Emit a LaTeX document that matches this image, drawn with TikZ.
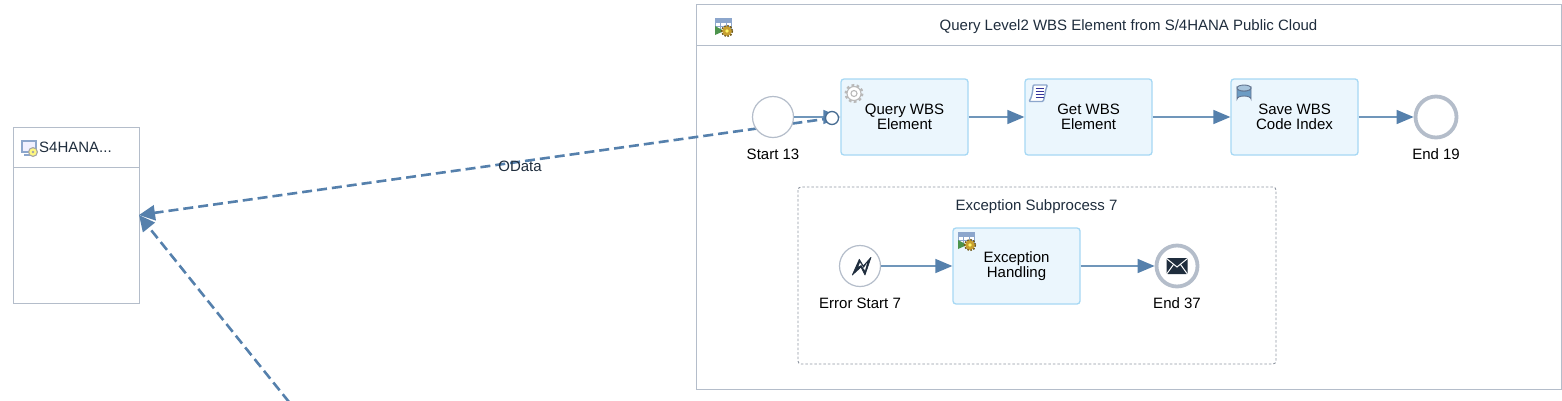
\documentclass[tikz,border=0pt]{standalone}
\usepackage{fontspec}
\setmainfont{Liberation Sans}
\usetikzlibrary{arrows.meta}
\definecolor{ink}{HTML}{1F2D3D}
\definecolor{framec}{HTML}{B4BDCA}
\definecolor{taskfill}{HTML}{EBF6FD}
\definecolor{taskline}{HTML}{A6D8F4}
\definecolor{flowc}{HTML}{7096BA}
\definecolor{tipc}{HTML}{5580AC}
\definecolor{dashc}{HTML}{5580AC}
\definecolor{gearc}{HTML}{C8A030}
\definecolor{iconb}{HTML}{8CA6CC}
\definecolor{dbc}{HTML}{6C9CC4}
\tikzset{
  x=1pt,y=-1pt,
  txt/.style={font=\fontsize{15}{15}\selectfont,text=black,inner sep=0pt,align=center},
  ttl/.style={font=\fontsize{15}{15}\selectfont,text=ink,inner sep=0pt},
  framebox/.style={draw=framec,line width=1pt,fill=white},
  task/.style={draw=taskline,line width=1.3pt,fill=taskfill,rounded corners=3pt,minimum width=127pt,minimum height=76pt,inner sep=0pt,font=\fontsize{15}{15}\selectfont,align=center,text=black},
  startev/.style={circle,draw=framec,line width=1.2pt,fill=white,minimum size=41pt,inner sep=0pt},
  endev/.style={circle,draw=framec,line width=3.8pt,fill=white,minimum size=41pt,inner sep=0pt},
  flow/.style={draw=flowc,line width=1.5pt,-{Triangle[length=17pt,width=14pt,fill=tipc,color=tipc]}},
  msg/.style={draw=dashc,line width=2.6pt,dash pattern=on 10pt off 5pt,-{Triangle[length=16pt,width=15pt,fill=tipc,color=tipc]}},
  gearicon/.pic={
    \draw[pic actions,line width=3pt,dash pattern=on 2.6pt off 2.4pt] (0,0) circle (8);
    \draw[pic actions,line width=1.1pt,fill=white] (0,0) circle (7);
    \draw[pic actions,line width=1.1pt] (0,0) circle (3);
  },
  subicon/.pic={
    \fill[white] (-8,-9) rectangle (8,3);
    \fill[iconb] (-8,-9) rectangle (8,-5);
    \draw[iconb,line width=.9pt] (-8,-9) rectangle (8,3) (-8,-5) -- (8,-5) (-8,-1) -- (8,-1) (-3,-9) -- (-3,3) (3,-9) -- (3,3);
    \fill[green!40!black!70] (-8,-1) -- (-8,8) -- (1,4) -- cycle;
    \draw[black!45!gearc,line width=2pt,dash pattern=on 1.7pt off 1.3pt] (4,4) circle (5.2);
    \fill[gearc] (4,4) circle (4.8);
    \fill[yellow!60!white] (4,4) circle (1.9);
  }
}
\begin{document}
\begin{tikzpicture}
\useasboundingbox (0,0) rectangle (1562,400);
% participants
\path[framebox] (696,4) rectangle (1561,389);
\coordinate (poolHeadL) at (696,45);
\coordinate (poolHeadR) at (1561,45);
\draw[framec,line width=1pt] (poolHeadL) -- (poolHeadR);
\node[ttl,anchor=center] (pooltitle) at (1128.5,26.5) {Query Level2 WBS Element from S/4HANA Public Cloud};
\path[framebox] (13,127) rectangle (139,303);
\coordinate (sysHeadL) at (13,167);
\coordinate (sysHeadR) at (139,167);
\draw[framec,line width=1pt] (sysHeadL) -- (sysHeadR);
\node[ttl,anchor=west] (systitle) at (39,147.5) {S4HANA...};
\coordinate (sysIn) at (139,215);
\coordinate (lowerEnd) at (289,402);
% subprocess
\draw[framec!80!black,line width=.9pt,dash pattern=on 2.5pt off 2pt,rounded corners=3pt] (798,187) rectangle (1276,364);
\node[ttl,anchor=center] (subtitle) at (1036.5,206.5) {Exception Subprocess 7};
% nodes
\coordinate (adapter) at (832,118);
\draw[msg] (adapter) -- (sysIn);
\draw[msg] (lowerEnd) -- (sysIn);
\node[txt,text=ink] (odata) at (520,166.5) {OData};
\node[startev] (start) at (773,117) {};
\node[txt] (startl) at (773,154.5) {Start 13};
\node[task] (query) at (904.5,117) {\raisebox{3.5pt}{\parbox{100pt}{\centering Query WBS\\Element}}};
\node[task] (get) at (1088.5,117) {\raisebox{3.5pt}{\parbox{100pt}{\centering Get WBS\\Element}}};
\node[task] (save) at (1294.5,117) {\raisebox{3.5pt}{\parbox{100pt}{\centering Save WBS\\Code Index}}};
\node[endev] (end) at (1436,117) {};
\node[txt] (endl) at (1436,154.5) {End 19};
\node[startev] (err) at (860,266) {};
\node[txt] (errl) at (860,303.5) {Error Start 7};
\node[task] (exc) at (1016.5,266) {\raisebox{3.5pt}{\parbox{100pt}{\centering Exception\\Handling}}};
\node[endev] (end37) at (1177,266) {};
\node[txt] (end37l) at (1177,303.5) {End 37};
% flows
\draw[flow] (start.east) -- (query.west);
\draw[flow] (query) -- (get);
\draw[flow] (get) -- (save);
\draw[flow] (save) -- (end);
\draw[flow] (err) -- (exc);
\draw[flow] (exc) -- (end37);
\node[circle,draw=tipc!85!black,line width=1.3pt,fill=white,minimum size=13pt,inner sep=0pt] (adapterc) at (adapter) {};
% icons
\pic[draw=gray!55] at (854,93.5) {gearicon};
\pic at (723,27) {subicon};
\pic at (966,241) {subicon};
% script icon
\draw[draw=iconb,fill=white,line width=1.4pt,rounded corners=1pt] (1029,101.5) .. controls (1032,97) and (1033,90) .. (1033,85) -- (1047.5,85) .. controls (1045,90) and (1045,97) .. (1043,101.5) -- cycle;
\foreach \yy in {88.5,91.5,94.5,97.5} \draw[blue!50!black!80,line width=1.2pt] (1035.5,\yy) -- (1043.5,\yy);
% database icon
\draw[draw=iconb!70!black,fill=dbc,line width=.9pt] (1237,88) -- (1237,99) arc[start angle=180,end angle=360,x radius=7,y radius=3] -- (1251,88) arc[start angle=0,end angle=180,x radius=7,y radius=3] -- cycle;
\draw[draw=iconb!70!black,fill=dbc!60!white,line width=.9pt] (1244,88) ellipse[x radius=7,y radius=3];
% system icon
\draw[draw=iconb,fill=blue!6!white,line width=1.4pt] (22,141) rectangle (36,152);
\draw[iconb,line width=1.6pt] (24,155) -- (31,155);
\draw[gray!70,fill=yellow!50!white,line width=1.1pt] (33,152) circle (4.4);
\fill[gray!70] (33,152) circle (1.3);
% error glyph
\draw[ink,fill=ink,line width=.7pt,line join=round] (852.3,275) -- (859.3,259.3) -- (863.3,266) -- (871,257.3) -- (865,275) -- (861,267) -- cycle;
\fill[white] (858.5,266.5) -- (860,262.5) -- (863.5,268.5) -- (867,263) -- (865,270.5) -- (861.5,264.7) -- cycle;
% envelope glyph
\fill[ink,rounded corners=1pt] (1166.5,258) rectangle (1187.5,274);
\draw[white,line width=1pt] (1166.5,258.5) -- (1177,267) -- (1187.5,258.5) (1167,273.5) -- (1173.5,264.5) (1187,273.5) -- (1180.5,264.5);
\end{tikzpicture}
\end{document}
